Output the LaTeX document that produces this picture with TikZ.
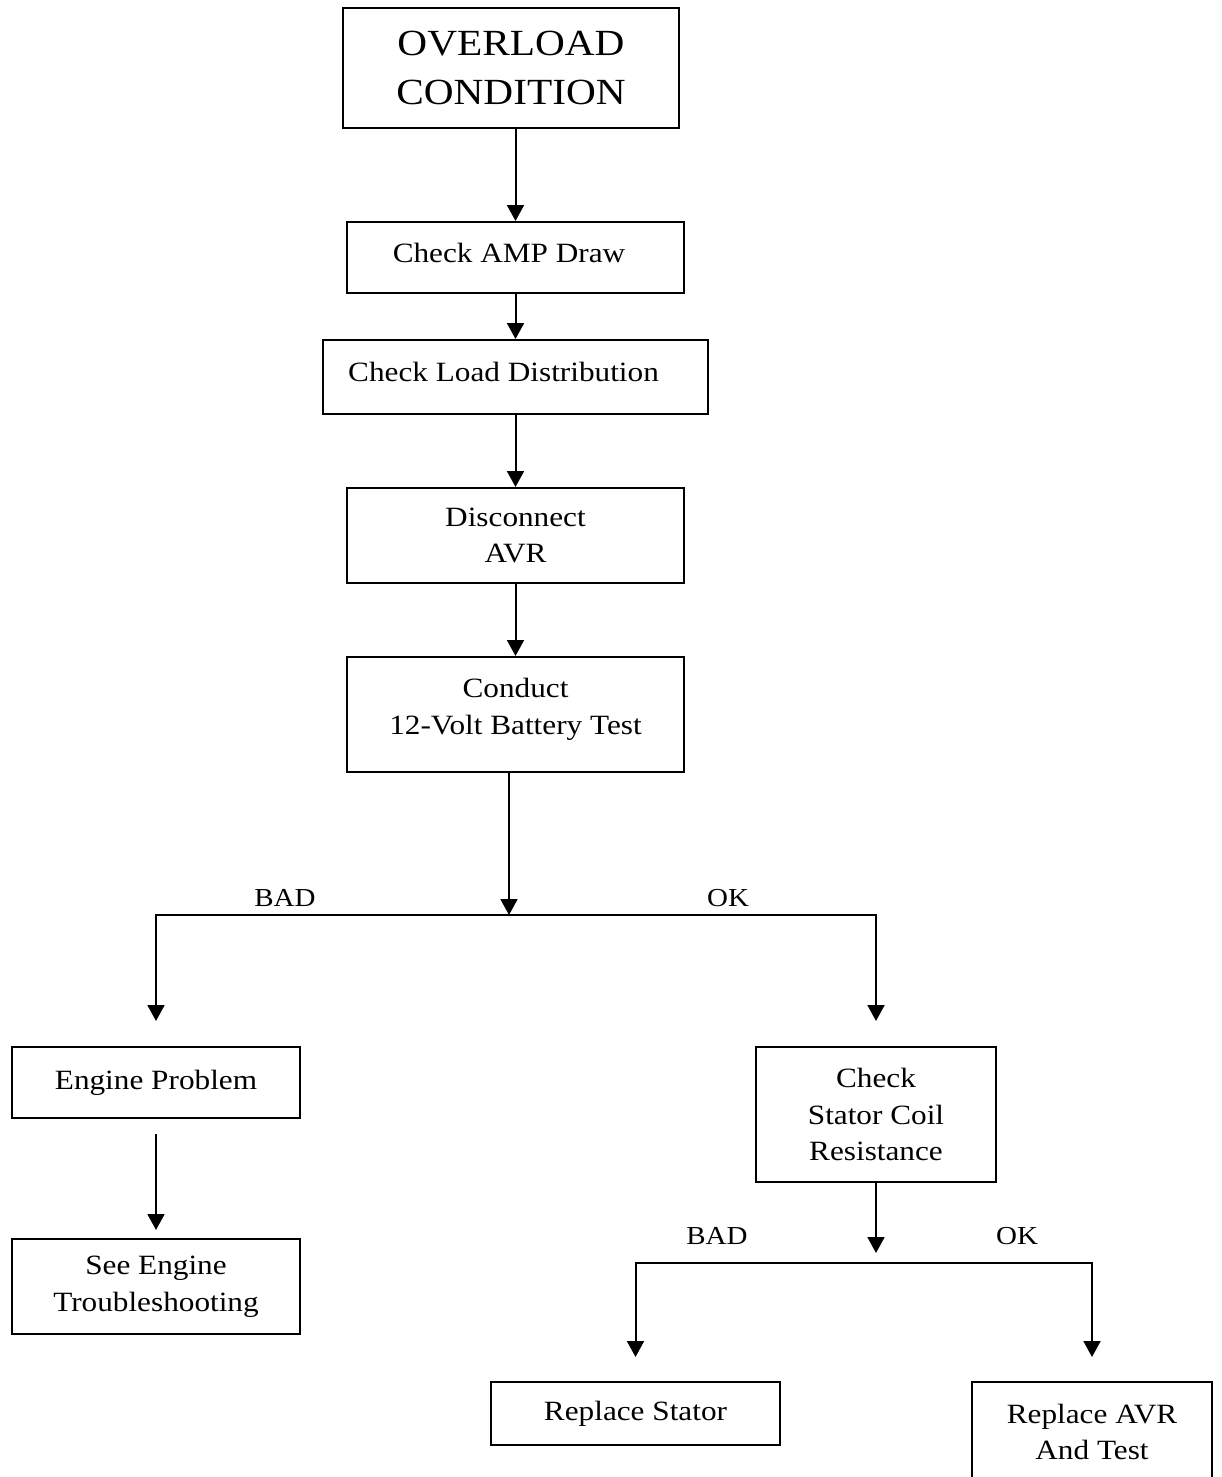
\documentclass[tikz,border=0pt]{standalone}
\usepackage{fontspec}
\setmainfont{Liberation Serif}[FakeStretch=1.12]
\usetikzlibrary{arrows.meta}
\tikzset{
  box/.style={draw,line width=2pt,inner sep=0pt,align=center,font=\fontsize{28}{37}\selectfont},
  lbl/.style={inner sep=0pt,font=\fontsize{26}{30}\selectfont},
  flow/.style={->,line width=2pt},
}
\begin{document}
\begin{tikzpicture}[>={Triangle[width=17pt,length=16pt]},line join=miter,]
\useasboundingbox (0bp,0bp) rectangle (1222bp,1477bp);
%%
\node (ovl) at (511bp,1409bp) [box,minimum width=336bp,minimum height=120bp,font=\fontsize{37}{49}\selectfont] {OVERLOAD\\CONDITION};
  \node (amp) at (515.5bp,1219.5bp) [box,minimum width=337bp,minimum height=71bp,text depth=10pt] {Check AMP Draw\hspace*{13pt}};
  \node (load) at (515.5bp,1100bp) [box,minimum width=385bp,minimum height=74bp,text depth=10pt] {Check Load Distribution\hspace*{24pt}};
  \node (disc) at (515.5bp,941.5bp) [box,minimum width=337bp,minimum height=95bp] {Disconnect\\AVR};
  \node (batt) at (515.5bp,762.5bp) [box,minimum width=337bp,minimum height=115bp,text depth=17pt] {Conduct\\12-Volt Battery Test};
  \coordinate (split1) at (509bp,562bp);
  \node (bad1) at (285bp,579bp) [lbl] {BAD};
  \node (ok1) at (728bp,579bp) [lbl] {OK};
  \node (eng) at (156bp,394.5bp) [box,minimum width=288bp,minimum height=71bp] {Engine Problem};
  \node (engts) at (156bp,190.5bp) [box,minimum width=288bp,minimum height=95bp] {See Engine\\Troubleshooting};
  \node (stator) at (876bp,362.5bp) [box,minimum width=240bp,minimum height=135bp] {Check\\Stator Coil\\Resistance};
  \coordinate (split2) at (876bp,214bp);
  \node (bad2) at (717bp,241bp) [lbl] {BAD};
  \node (ok2) at (1017bp,241bp) [lbl] {OK};
  \node (repst) at (635.5bp,63.5bp) [box,minimum width=289bp,minimum height=63bp] {Replace Stator};
  \node (repavr) at (1092bp,45bp) [box,minimum width=240bp,minimum height=100bp] {Replace AVR\\And Test};
%
  \draw [flow] (ovl.south -| amp.north) -- (amp.north);
  \draw [flow] (amp) -- (load);
  \draw [flow] (load) -- (disc);
  \draw [flow] (disc) -- (batt);
  \draw [flow] (batt.south -| split1) -- (split1);
  \draw [flow,shorten >=25bp] (split1) -| (eng.north);
  \draw [flow,shorten >=25bp] (split1) -| (stator.north);
  \draw [flow,shorten <=15bp,shorten >=8bp] (eng) -- (engts);
  \draw [flow,shorten >=10bp] (stator) -- (split2);
  \draw [flow,shorten >=24bp] (split2) -| (repst.north);
  \draw [flow,shorten >=24bp] (split2) -| (repavr.north);
%
\end{tikzpicture}
\end{document}
